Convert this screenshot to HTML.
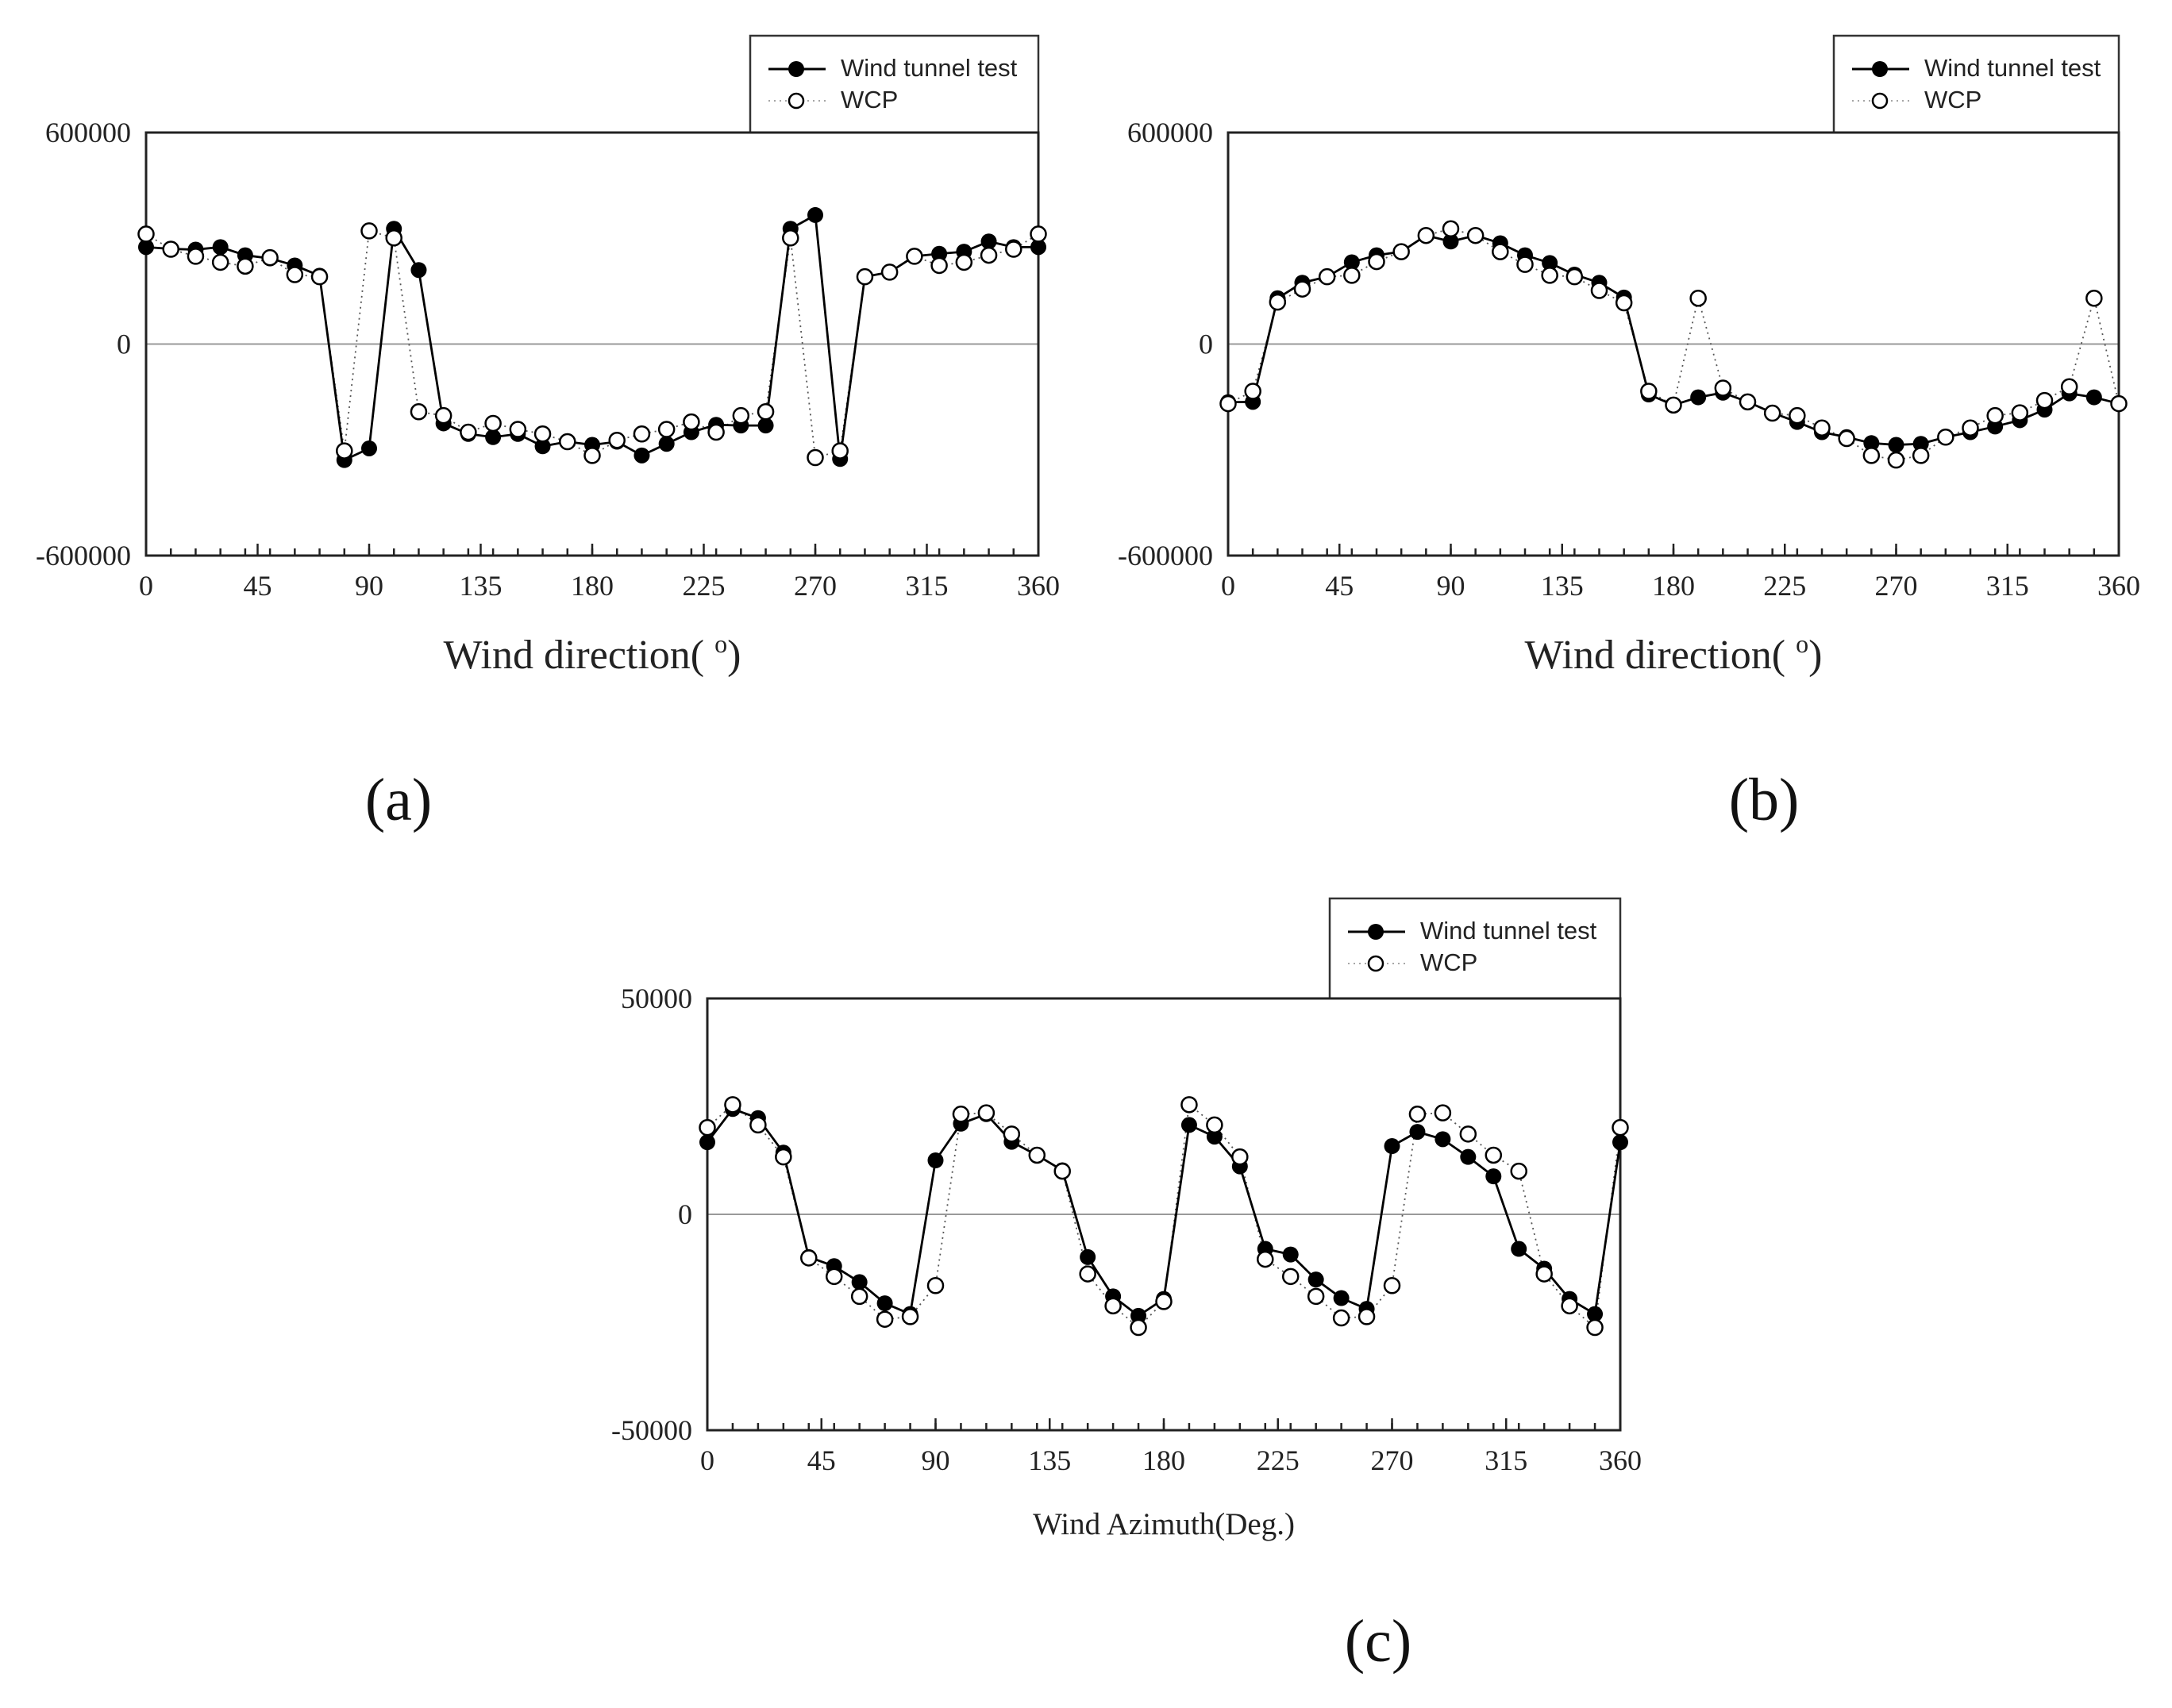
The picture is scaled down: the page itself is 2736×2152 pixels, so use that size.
<!DOCTYPE html>
<html><head><meta charset="utf-8">
<style>
html,body{margin:0;padding:0;background:#fff;}
svg{display:block;}
.tick{font-family:"Liberation Serif",serif;font-size:36px;fill:#222;}
.leg{font-family:"Liberation Sans",sans-serif;font-size:31px;fill:#222;}
.title{font-family:"Liberation Serif",serif;fill:#222;}
.panel{font-family:"Liberation Serif","DejaVu Serif",serif;font-size:76px;fill:#111;}
</style></head>
<body>
<svg id="svg" width="2736" height="2152" viewBox="0 0 2736 2152" xmlns="http://www.w3.org/2000/svg">
<rect width="2736" height="2152" fill="#fff"/>
<text class="panel" x="502" y="1033" text-anchor="middle">(a)</text>
<text class="panel" x="2222" y="1033" text-anchor="middle">(b)</text>
<text class="panel" x="1736" y="2093" text-anchor="middle">(c)</text>
</svg>
<script>
const angles=[0,10,20,30,40,50,60,70,80,90,100,110,120,130,140,150,160,170,180,190,200,210,220,230,240,250,260,270,280,290,300,310,320,330,340,350,360];
const xTicks=[0,45,90,135,180,225,270,315,360];
const aWind=[275000,270000,268000,275000,252000,243000,223000,194000,-329000,-296000,327000,210000,-225000,-255000,-264000,-255000,-290000,-277000,-286000,-277000,-316000,-283000,-250000,-229000,-231000,-231000,327000,366000,-326000,191000,204000,249000,256000,262000,291000,275000,275000];
const aWcp=[312000,269000,249000,232000,221000,245000,197000,191000,-303000,321000,301000,-192000,-203000,-250000,-225000,-242000,-255000,-277000,-316000,-273000,-255000,-242000,-221000,-250000,-203000,-192000,301000,-322000,-303000,191000,204000,249000,223000,232000,252000,269000,312000];
const bWind=[-165000,-164000,130000,174000,191000,232000,252000,262000,308000,291000,308000,286000,252000,230000,197000,174000,132000,-143000,-173000,-151000,-138000,-164000,-195000,-221000,-250000,-264000,-281000,-286000,-283000,-264000,-250000,-234000,-216000,-186000,-140000,-151000,-169000];
const bWcp=[-169000,-134000,119000,156000,191000,195000,234000,262000,308000,327000,308000,262000,226000,195000,191000,152000,117000,-134000,-173000,130000,-125000,-164000,-196000,-203000,-238000,-268000,-316000,-329000,-316000,-264000,-238000,-203000,-195000,-160000,-121000,130000,-169000];
const cWind=[16700,24400,22300,14300,-9900,-12000,-15700,-20600,-23100,12500,21000,23200,16800,13700,10200,-9900,-19000,-23500,-19600,20700,18000,11100,-8000,-9300,-15100,-19400,-21900,15800,19100,17400,13300,8800,-8000,-12600,-19600,-23100,16700];
const cWcp=[20100,25400,20700,13300,-10100,-14400,-19000,-24300,-23700,-16500,23200,23500,18600,13700,10000,-13800,-21200,-26200,-20200,25400,20700,13300,-10400,-14400,-19000,-24000,-23700,-16500,23200,23500,18600,13700,10000,-13800,-21200,-26200,20100];
const abTicks=["600000","0","-600000"];
const cTicks=["50000","0","-50000"];

const NS="http://www.w3.org/2000/svg";
const svg=document.getElementById('svg');
function mk(tag,attrs,parent){const e=document.createElementNS(NS,tag);for(const k in attrs)e.setAttribute(k,attrs[k]);(parent||svg).appendChild(e);return e;}

function chart(id,L,R,T,B,ymax,wind,wcp,yt,legX,legT,title,titleY,titleSize){
  const g=mk('g',{});
  
  
  const xs=v=>L+(v/360)*(R-L);
  const ys=v=>T+(ymax-v)/(2*ymax)*(B-T);
  const z=mk('line',{x1:L,x2:R,y1:ys(0),y2:ys(0),stroke:'#999','stroke-width':2},g);
  
  
  const lb=mk('rect',{x:legX,y:legT,width:R-legX,height:T-legT,fill:'#fff',stroke:'#333','stroke-width':2.5},g);
  
  
  const ly1=legT+42, ly2=legT+82;
  mk('line',{x1:legX+23,x2:legX+95,y1:ly1,y2:ly1,stroke:'#000','stroke-width':3},g);
  const m1=mk('circle',{cx:legX+58,cy:ly1,r:10,fill:'#000'},g);
  
  
  const t1=mk('text',{x:legX+114,y:ly1+9,class:'leg'},g);t1.textContent='Wind tunnel test';
  
  
  mk('line',{x1:legX+23,x2:legX+95,y1:ly2,y2:ly2,stroke:'#888','stroke-width':1.5,'stroke-dasharray':'2,5'},g);
  const m2=mk('circle',{cx:legX+58,cy:ly2,r:9,fill:'#fff',stroke:'#000','stroke-width':2.5},g);
  
  
  const t2=mk('text',{x:legX+114,y:ly2+9,class:'leg'},g);t2.textContent='WCP';
  
  
  const fr=mk('rect',{x:L,y:T,width:R-L,height:B-T,fill:'none',stroke:'#222','stroke-width':3},g);
  
  
  for(let a=0;a<=360;a+=10){mk('line',{x1:xs(a),x2:xs(a),y1:B,y2:B-9,stroke:'#222','stroke-width':2.5},g);}
  xTicks.forEach(a=>{mk('line',{x1:xs(a),x2:xs(a),y1:B,y2:B-15,stroke:'#222','stroke-width':2.5},g);
    const t=mk('text',{x:xs(a),y:B+50,class:'tick','text-anchor':'middle'},g);t.textContent=String(a);
    
    });
  [ymax,0,-ymax].forEach((v,i)=>{const t=mk('text',{x:L-19,y:ys(v)+12,class:'tick','text-anchor':'end'},g);t.textContent=yt[i];
    
    });
  const p2=mk('polyline',{points:angles.map((a,i)=>xs(a)+','+ys(wcp[i])).join(' '),fill:'none',stroke:'#555','stroke-width':1.8,'stroke-dasharray':'2,5'},g);
  
  
  const p1=mk('polyline',{points:angles.map((a,i)=>xs(a)+','+ys(wind[i])).join(' '),fill:'none',stroke:'#000','stroke-width':2.8},g);
  
  
  angles.forEach((a,i)=>{const c=mk('circle',{cx:xs(a),cy:ys(wind[i]),r:10,fill:'#000'},g);
    
    });
  angles.forEach((a,i)=>{const c=mk('circle',{cx:xs(a),cy:ys(wcp[i]),r:9.5,fill:'#fff',stroke:'#000','stroke-width':2.5},g);
    
    });
  const tt=mk('text',{x:(L+R)/2,y:titleY,class:'title','text-anchor':'middle','font-size':titleSize},g);
  tt.innerHTML=title;
  
  
}
chart('chart-a',184,1308,167,700,600000,aWind,aWcp,abTicks,945,45,'Wind direction( <tspan dy="-20" font-size="32">o</tspan><tspan dy="20">)</tspan>',842,52);
chart('chart-b',1547,2669,167,700,600000,bWind,bWcp,abTicks,2310,45,'Wind direction( <tspan dy="-20" font-size="32">o</tspan><tspan dy="20">)</tspan>',842,52);
chart('chart-c',891,2041,1258,1802,50000,cWind,cWcp,cTicks,1675,1132,'Wind Azimuth(Deg.)',1933,39);
</script>
</body></html>
